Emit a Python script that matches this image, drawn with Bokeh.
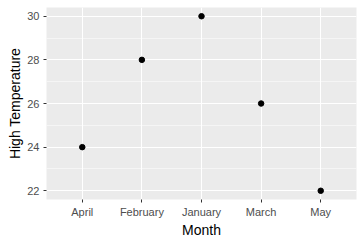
from bokeh.plotting import figure
from bokeh.models import ColumnDataSource, FactorRange, Range1d, SingleIntervalTicker
from bokeh.embed import file_html
from bokeh.resources import INLINE

months = ["April", "February", "January", "March", "May"]
high_temp = [24, 28, 30, 26, 22]

src = ColumnDataSource(dict(month=months, temp=high_temp))

p = figure(width=364, height=244, output_backend="svg", toolbar_location=None,
           x_range=FactorRange(factors=months, range_padding=0.1, range_padding_units="absolute"),
           y_range=Range1d(21.6, 30.4),
           min_border_left=46, min_border_right=8, min_border_top=7, min_border_bottom=45)

p.background_fill_color = "#EBEBEB"
p.border_fill_color = "white"
p.outline_line_color = None

p.scatter(x="month", y="temp", source=src, size=5.5, color="black")

p.yaxis.ticker = SingleIntervalTicker(interval=2, num_minor_ticks=2)

for ax in (p.xaxis[0], p.yaxis[0]):
    ax.axis_line_color = None
    ax.major_tick_line_color = "#333333"
    ax.major_tick_out = 3
    ax.major_tick_in = 0
    ax.minor_tick_line_color = None
    ax.major_label_text_color = "#4D4D4D"
    ax.major_label_text_font = "Liberation Sans"
    ax.major_label_text_font_size = "11px"
    ax.axis_label_text_font = "Liberation Sans"
    ax.axis_label_text_font_size = "14px"
    ax.axis_label_text_font_style = "normal"
    ax.axis_label_text_color = "black"
    ax.major_label_standoff = 3

p.xaxis.axis_label = "Month"
p.yaxis.axis_label = "High Temperature"
p.xaxis.axis_label_standoff = 1
p.yaxis.axis_label_standoff = 1

p.xgrid.grid_line_color = "white"
p.xgrid.grid_line_width = 1.1
p.ygrid.grid_line_color = "white"
p.ygrid.grid_line_width = 1.1
p.ygrid.minor_grid_line_color = "white"
p.ygrid.minor_grid_line_width = 0.5

open("out.html", "w").write(file_html(p, INLINE))
